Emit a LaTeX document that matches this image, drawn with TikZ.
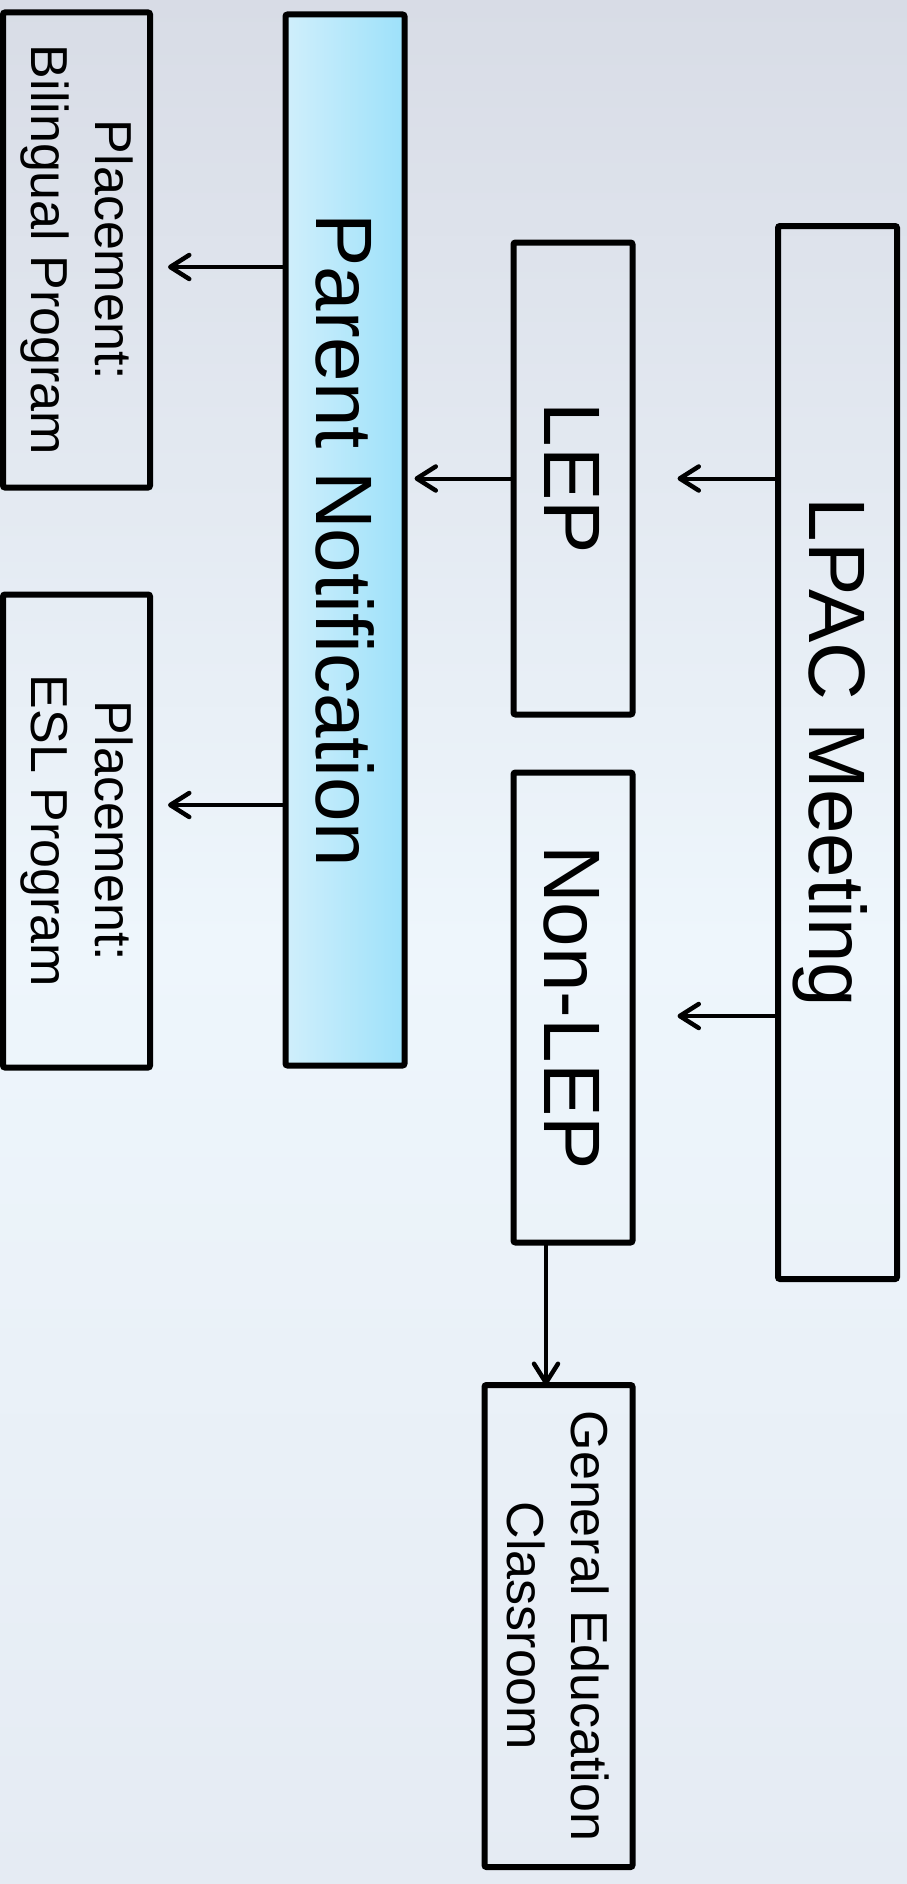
\documentclass[tikz,border=0pt]{standalone}
\usepackage{fontspec}
\setmainfont{Liberation Sans}
\usetikzlibrary{arrows.meta,calc}
\newcommand\bigtxt{\fontsize{80}{96}\selectfont}
\newcommand\smalltxt{\fontsize{52}{64}\selectfont}
\definecolor{bgtop}{HTML}{D8DCE6}
\definecolor{bgmid}{HTML}{EEF6FC}
\definecolor{bgbot}{HTML}{E5EBF3}
\definecolor{pnleft}{HTML}{D0EFFB}
\definecolor{pnright}{HTML}{9DE1FA}
\tikzset{
  box/.style={draw=black, line width=6pt, rounded corners=2pt, rectangle, inner sep=0pt, outer sep=0pt},
  txt/.style={rotate=-90, inner sep=0pt, outer sep=0pt, text=black},
  bigone/.style={txt, font=\bigtxt, text height=57pt, text depth=0pt},
  smallpair/.style={txt, font=\smalltxt, align=center},
  arr/.style={draw=black, line width=4pt, -{Straight Barb[length=19pt,width=24pt,line width=4.5pt,round]}},
}
\begin{document}
\begin{tikzpicture}[x=1pt,y=-1pt]
\fill[top color=bgtop, bottom color=bgbot, middle color=bgmid] (0,0) rectangle (907,1884);
\useasboundingbox (0,0) rectangle (907,1884);

% boxes
\node[box, minimum width=119pt, minimum height=1053pt] (lpac) at (837.5,752.5) {};
\node[box, minimum width=119pt, minimum height=472pt] (lep) at (573,478.5) {};
\node[box, minimum width=119pt, minimum height=470pt] (nonlep) at (573,1007.5) {};
\node[box, minimum width=148pt, minimum height=482pt] (ge) at (558.5,1626) {};
\node[box, left color=pnleft, right color=pnright, minimum width=119pt, minimum height=1051pt] (pn) at (345,540) {};
\node[box, minimum width=147pt, minimum height=475pt] (bil) at (76.5,250) {};
\node[box, minimum width=147pt, minimum height=473pt] (esl) at (76.5,831) {};

% texts
\node[bigone] (tlpac) at (lpac.center) {LPAC Meeting};
\node[bigone] (tlep) at (lep.center) {LEP};
\node[bigone] (tnonlep) at (nonlep.center) {Non-LEP};
\node[bigone] (tpn) at (pn.center) {Parent Notification};
\node[smallpair] (tge) at (ge.center) {General Education\\Classroom};
\node[smallpair] (tbil) at (bil.center) {Placement:\\Bilingual Program};
\node[smallpair] (tesl) at (esl.center) {Placement:\\ESL Program};

% arrow levels
\coordinate (y2) at (0,1016);
\coordinate (y3) at (0,267);
\coordinate (y4) at (0,805);
\coordinate (x5) at (546,0);

% connectors
\draw[arr] (lpac.west |- lep.center) -- ($(lep.east)+(45,0)$);
\draw[arr] (lpac.west |- y2) -- ($(nonlep.east |- y2)+(45,0)$);
\draw[arr] (lep.west) -- ($(pn.east |- lep.west)+(10,0)$);
\draw[arr] (pn.west |- y3) -- ($(bil.east |- y3)+(18,0)$);
\draw[arr] (pn.west |- y4) -- ($(esl.east |- y4)+(18,0)$);
\draw[arr] (nonlep.south -| x5) -- (ge.north -| x5);
\end{tikzpicture}
\end{document}
